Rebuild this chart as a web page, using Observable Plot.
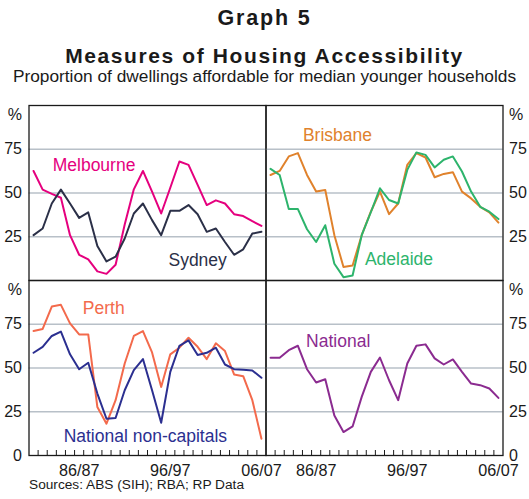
<!DOCTYPE html>
<html>
<head>
<meta charset="utf-8">
<script src="https://cdn.jsdelivr.net/npm/d3@7"></script>
<script src="https://cdn.jsdelivr.net/npm/@observablehq/plot@0.6"></script>
<style>
  html, body { margin: 0; padding: 0; background: #fff; }
  #wrap { position: relative; width: 529px; height: 499px; background: #fff; font-family: "Liberation Sans", Arial, sans-serif; color: #1a1a1a; overflow: hidden; }
  .txt { position: absolute; white-space: nowrap; line-height: 1; }
  #wrap svg { position: absolute; left: 0; }
</style>
</head>
<body>
<div id="wrap">
  <div class="txt" style="left:0;width:529px;text-align:center;top:8px;font-size:21.5px;font-weight:bold;letter-spacing:1.8px;">Graph 5</div>
  <div class="txt" style="left:0;width:529px;text-align:center;top:44.5px;font-size:21px;font-weight:bold;letter-spacing:1.6px;">Measures of Housing Accessibility</div>
  <div class="txt" style="left:0;width:529px;text-align:center;top:67.5px;font-size:17.3px;">Proportion of dwellings affordable for median younger households</div>
  <div class="txt" style="left:29px;top:478px;font-size:13.7px;">Sources: ABS (SIH); RBA; RP Data</div>
</div>
<script>
// Financial years (start year of each year, e.g. 1981 = 1981/82)
const years = [1981,1982,1983,1984,1985,1986,1987,1988,1989,1990,1991,1992,1993,1994,1995,1996,1997,1998,1999,2000,2001,2002,2003,2004,2005,2006];
const labelYears = [1986, 1996, 2006];

const melbourne = [62.6,51.9,49.5,47.3,25.9,14.7,12.1,5.2,3.8,9,32,52.1,62.6,50.8,38.3,53,68,66.1,54.6,43.1,45.8,44,37.9,36.8,33.9,31.2];
const sydney = [25.9,29.7,44,51.9,44,35.8,38.9,19.7,10.9,13.6,24,38.3,44,34.5,25.9,39.8,39.8,43.1,37.9,27.8,29.7,22,14.7,17.8,26.8,27.8];
const brisbane = [60.3,62.6,70.9,72.8,60.3,50.8,51.7,25.9,7.7,8.6,25.9,39.3,50.8,37.9,44,66.1,72.8,70.3,59,60.9,61.9,50.8,46.9,42.1,38.9,33.1];
const adelaide = [63.8,60.3,40.8,40.8,29.3,22,31.6,9.6,1.9,2.9,25.9,39,52.7,46,44,63.2,73.2,71.8,64.6,69,70.9,62.3,50.8,42.1,39.3,35.1];
const perth = [71.1,72.3,85.1,86.1,75.5,69.2,69.2,27.7,18.2,31.6,52.6,68.3,71.1,58.9,39.2,57.8,61.6,67.3,62.1,55.1,64.1,59.7,46.3,45.3,31.6,9.6];
const nonCapitals = [58.7,62.1,68.3,70.8,57.8,49.3,53,35.4,21,21.4,37.3,48.8,55.1,37.3,18.7,47.8,62.7,65.8,57.4,58.7,61.6,52,49.3,49,48.6,44.4];
const national = [55.8,55.8,60.2,62.7,49.3,41.7,43.6,22.9,13.4,16.6,33.5,47.8,56,43,31.6,52.6,62.7,63.5,55.5,52,54.9,47.8,41.1,40.2,38.3,32.9];

const yTicks = [25, 50, 75];

// Series name, values, colour, label anchor (start year, value)
const panels = [
  {col: 0, row: 0, series: [
    {name: "Melbourne", values: melbourne, color: "#e5007e", lx: 1983.6, ly: 65.7},
    {name: "Sydney", values: sydney, color: "#2b3048", lx: 1996.3, ly: 11.4}]},
  {col: 1, row: 0, series: [
    {name: "Brisbane", values: brisbane, color: "#e0822c", lx: 1985.05, ly: 82.9},
    {name: "Adelaide", values: adelaide, color: "#2db46c", lx: 1991.85, ly: 12}]},
  {col: 0, row: 1, series: [
    {name: "Perth", values: perth, color: "#f36a4c", lx: 1986.9, ly: 84.3},
    {name: "National non-capitals", values: nonCapitals, color: "#2b2f90", lx: 1984.8, ly: 10.9}]},
  {col: 1, row: 1, series: [
    {name: "National", values: national, color: "#8b2b90", lx: 1985.4, ly: 65.4}]}
];

const FONT = "'Liberation Sans', Arial, sans-serif";
const wrap = document.getElementById("wrap");

for (const p of panels) {
  const left = p.col === 0;
  const bottom = p.row === 1;
  const mL = left ? 28.5 : 265.5;
  const mR = left ? 529 - 265.5 : 529 - 502.5;
  const marks = [];
  marks.push(Plot.ruleY(yTicks, {stroke: "#b8c0c8", strokeWidth: 1.3}));
  for (const s of p.series) {
    const data = years.map((yr, i) => ({x: yr + 0.5, y: s.values[i]}));
    marks.push(Plot.lineY(data, {x: "x", y: "y", stroke: s.color, strokeWidth: 2}));
    marks.push(Plot.text([s.name], {x: [s.lx], y: [s.ly], text: d => d, textAnchor: "start", lineAnchor: "middle", fill: s.color, fontSize: 17.5, fontFamily: FONT}));
  }
  const anchor = left ? "left" : "right";
  marks.push(Plot.axisY({anchor, label: null, ticks: bottom ? [0, ...yTicks] : yTicks, tickSize: 0, tickPadding: left ? 7 : 6, fontSize: 16, fontFamily: FONT, fill: "#1a1a1a", tickFormat: d => String(d)}));
  marks.push(Plot.axisY({anchor, label: null, ticks: [100], tickSize: 0, tickPadding: left ? 7 : 6, dy: 9, fontSize: 16, fontFamily: FONT, fill: "#1a1a1a", tickFormat: () => "%"}));
  if (bottom) {
    const boundaries = years.slice(1);
    marks.push(Plot.ruleX(boundaries, {x: d => d, insetTop: 170, stroke: "#1a1a1a", strokeWidth: 1}));
    marks.push(Plot.axisX({label: null, ticks: labelYears.map(y => y + 0.5), tickSize: 0, tickPadding: 9, fontSize: 16.2, fontFamily: FONT, fill: "#1a1a1a",
      tickFormat: d => { const a = Math.floor(d) % 100, b = (a + 1) % 100; return String(a).padStart(2, "0") + "/" + String(b).padStart(2, "0"); }}));
  }
  marks.push(Plot.frame({stroke: "#1a1a1a", strokeWidth: 1.3}));
  const svg = Plot.plot({
    width: 529,
    height: bottom ? 215 : 187,
    marginLeft: mL,
    marginRight: mR,
    marginTop: 10,
    marginBottom: bottom ? 30 : 2,
    x: {domain: [years[0], years[years.length - 1] + 1], axis: bottom ? undefined : null, label: null},
    y: {domain: [0, 100], label: null},
    style: {background: "transparent", fontFamily: FONT, overflow: "visible"},
    marks
  });
  svg.style.position = "absolute";
  svg.style.left = "0px";
  svg.style.top = (bottom ? 270 : 95) + "px";
  svg.style.background = "transparent";
  wrap.appendChild(svg);
}
</script>
</body>
</html>
